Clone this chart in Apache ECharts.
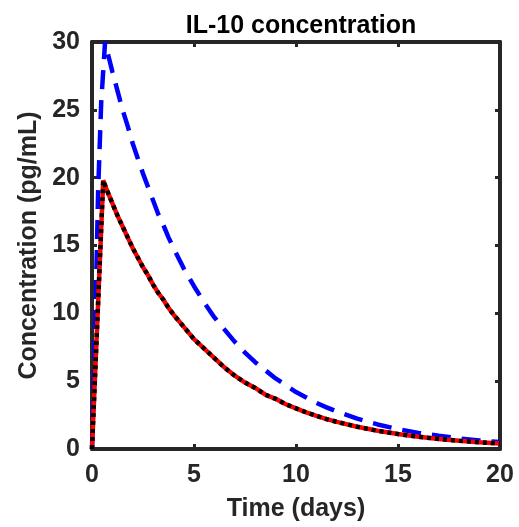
<!DOCTYPE html>
<html>
<head>
<meta charset="utf-8">
<script src="https://cdn.jsdelivr.net/npm/echarts@6/dist/echarts.min.js"></script>
<style>
  html, body { margin: 0; padding: 0; background: #fff; }
  #main { width: 519px; height: 527px; }
</style>
</head>
<body>
<div id="main"></div>
<script>
var dom = document.getElementById('main');
var chart = echarts.init(dom, null, { renderer: 'canvas' });

// red solid / black dotted curve (same values)
const redTimes = [0, 0.55, 0.75, 1, 1.25, 1.5, 1.75, 2, 2.25, 2.5, 2.75, 3, 3.25, 3.5, 3.75, 4, 4.5, 5, 5.5, 6, 6.5, 7, 7.5, 8, 8.5, 9, 9.5, 10, 10.5, 11, 11.5, 12, 13, 14, 15, 16, 17, 18, 19, 20];
const redValues = [0, 19.8, 19.0, 18.1, 17.2, 16.4, 15.6, 14.8, 14.1, 13.4, 12.8, 12.1, 11.5, 11.0, 10.4, 9.9, 9.0, 8.1, 7.4, 6.7, 6.0, 5.4, 4.9, 4.5, 4.0, 3.7, 3.3, 3.0, 2.7, 2.45, 2.2, 2.0, 1.64, 1.34, 1.10, 0.90, 0.74, 0.60, 0.50, 0.41];

// blue dashed curve
const blueTimes = [0, 0.1, 0.2, 0.3, 0.45, 0.64, 0.8, 1, 1.25, 1.5, 1.75, 2, 2.25, 2.5, 2.75, 3, 3.25, 3.5, 3.75, 4, 4.5, 5, 5.5, 6, 6.5, 7, 7.5, 8, 8.5, 9, 9.5, 10, 10.5, 11, 11.5, 12, 13, 14, 15, 16, 17, 18, 19, 20];
const blueValues = [0, 6, 12, 19, 25.5, 30, 29.0, 27.8, 26.4, 25.0, 23.8, 22.5, 21.4, 20.3, 19.3, 18.3, 17.3, 16.5, 15.6, 14.8, 13.3, 12.0, 10.8, 9.7, 8.8, 7.9, 7.1, 6.4, 5.8, 5.2, 4.7, 4.2, 3.8, 3.4, 3.07, 2.76, 2.24, 1.81, 1.47, 1.19, 0.97, 0.78, 0.63, 0.51];

const xTicks = [0, 5, 10, 15, 20];
const yTicks = [0, 5, 10, 15, 20, 25, 30];

function pairs(ts, vs) {
  return ts.map(function (t, i) { return [t, vs[i]]; });
}

var axisColor = '#262626';
var font = 'Liberation Sans, Arial, sans-serif';

function boxAxis(extra) {
  return Object.assign({
    type: 'value',
    axisLine: { show: true, onZero: false, lineStyle: { color: axisColor, width: 4 } },
    axisTick: { show: true, inside: true, length: 5, lineStyle: { color: axisColor, width: 3 } },
    splitLine: { show: false },
    axisLabel: { show: false }
  }, extra);
}

var option = {
  animation: false,
  title: {
    text: 'IL-10 concentration',
    left: 296,
    textAlign: 'center',
    top: 9,
    textStyle: { fontFamily: font, fontWeight: 'bold', fontSize: 25, color: '#000' }
  },
  grid: { left: 92, right: 19, top: 42, bottom: 78 },
  xAxis: [
    boxAxis({
      position: 'bottom',
      min: xTicks[0], max: xTicks[xTicks.length - 1], interval: 5,
      name: 'Time (days)',
      nameLocation: 'middle',
      nameGap: 48,
      nameTextStyle: { fontFamily: font, fontWeight: 'bold', fontSize: 25, color: '#262626' },
      axisLabel: { show: true, margin: 14, fontFamily: font, fontWeight: 'bold', fontSize: 25, color: '#262626' }
    }),
    boxAxis({ position: 'top', min: 0, max: 20, interval: 5 })
  ],
  yAxis: [
    boxAxis({
      position: 'left',
      min: yTicks[0], max: yTicks[yTicks.length - 1], interval: 5,
      name: 'Concentration (pg/mL)',
      nameLocation: 'middle',
      nameGap: 50,
      nameTextStyle: { fontFamily: font, fontWeight: 'bold', fontSize: 25, color: '#262626' },
      axisLabel: { show: true, margin: 12, fontFamily: font, fontWeight: 'bold', fontSize: 25, color: '#262626' }
    }),
    boxAxis({ position: 'right', min: 0, max: 30, interval: 5 })
  ],
  series: [
    {
      type: 'line',
      data: pairs(blueTimes, blueValues),
      showSymbol: false,
      lineStyle: { color: '#0000ff', width: 4.5, type: [19, 11] }
    },
    {
      type: 'line',
      data: pairs(redTimes, redValues),
      showSymbol: false,
      lineStyle: { color: '#ff0000', width: 4.5, type: 'solid' }
    },
    {
      type: 'line',
      data: pairs(redTimes, redValues),
      showSymbol: false,
      lineStyle: { color: '#000000', width: 4.5, type: [4, 4], cap: 'butt' }
    }
  ]
};

chart.setOption(option);
window.addEventListener('resize', chart.resize);
</script>
</body>
</html>
